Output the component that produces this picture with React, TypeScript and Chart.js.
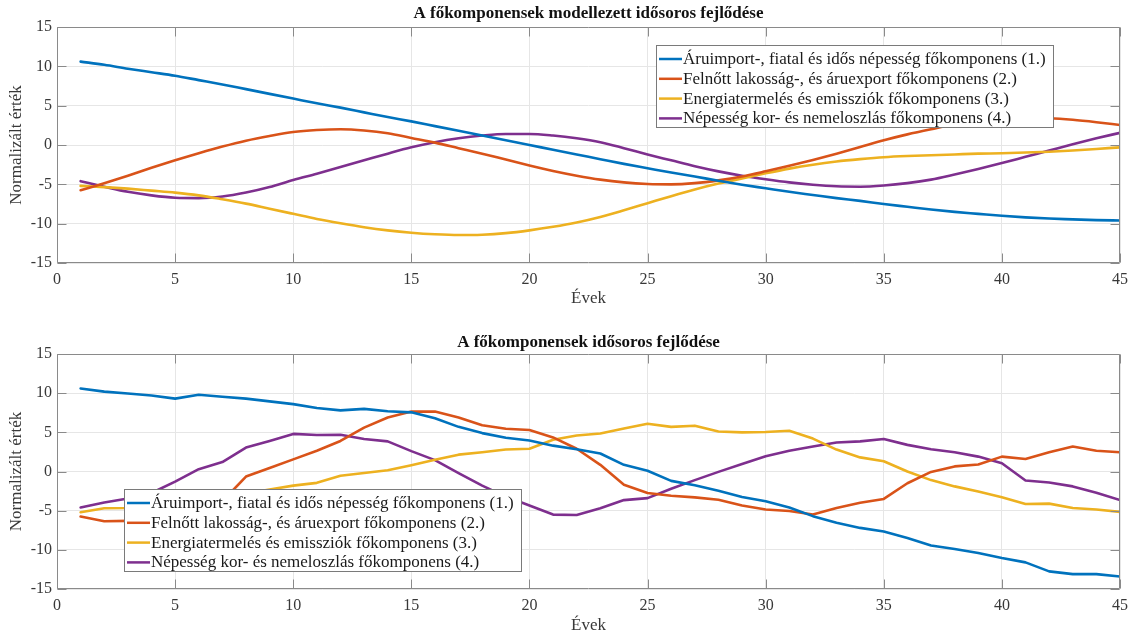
import React, { useEffect, useRef } from "react";
import { Chart, registerables } from "chart.js";

Chart.register(...registerables);

// ---------------- data ----------------
const years = [
  1, 2, 3, 4, 5, 6, 7, 8, 9, 10, 11, 12, 13, 14, 15, 16, 17, 18, 19, 20, 21, 22, 23,
  24, 25, 26, 27, 28, 29, 30, 31, 32, 33, 34, 35, 36, 37, 38, 39, 40, 41, 42, 43, 44, 45,
];

const seriesNames = [
  "Áruimport-, fiatal és idős népesség főkomponens (1.)",
  "Felnőtt lakosság-, és áruexport főkomponens (2.)",
  "Energiatermelés és emissziók főkomponens (3.)",
  "Népesség kor- és nemeloszlás főkomponens (4.)",
];

const seriesColors = ["#0072BD", "#D95319", "#EDB120", "#7E2F8E"];

// upper panel: modelled (smooth) time series
const modelComp1 = [
  10.6, 10.2, 9.7, 9.25, 8.8, 8.25, 7.7, 7.1, 6.5, 5.9,
  5.3, 4.75, 4.15, 3.55, 3.0, 2.4, 1.8, 1.2, 0.6, 0.0,
  -0.6, -1.2, -1.8, -2.4, -2.95, -3.5, -4.0, -4.55, -5.05, -5.5,
  -5.95, -6.35, -6.75, -7.1, -7.5, -7.85, -8.2, -8.5, -8.75, -9.0,
  -9.2, -9.35, -9.45, -9.55, -9.6,
];
const modelComp2 = [
  -5.75, -4.85, -3.9, -2.9, -1.95, -1.05, -0.2, 0.55, 1.15, 1.65,
  1.9, 2.0, 1.85, 1.5, 0.9, 0.3, -0.4, -1.1, -1.85, -2.6,
  -3.3, -3.9, -4.4, -4.75, -4.95, -5.0, -4.85, -4.5, -4.0, -3.35,
  -2.65, -1.9, -1.1, -0.25, 0.6, 1.35, 2.0, 2.6, 3.05, 3.35,
  3.45, 3.4, 3.2, 2.9, 2.55,
];
const modelComp3 = [
  -5.2, -5.35, -5.55, -5.8, -6.05, -6.4, -6.9, -7.45, -8.1, -8.75,
  -9.4, -9.95, -10.45, -10.85, -11.15, -11.35, -11.45, -11.4, -11.2, -10.85,
  -10.4, -9.85, -9.15, -8.3, -7.4, -6.5, -5.65, -4.9, -4.25, -3.6,
  -3.0, -2.5, -2.1, -1.8, -1.55, -1.4, -1.3, -1.2, -1.1, -1.05,
  -0.95, -0.85, -0.7, -0.5, -0.3,
];
const modelComp4 = [
  -4.6, -5.3, -5.95, -6.4, -6.7, -6.75, -6.55, -6.05, -5.35, -4.45,
  -3.65, -2.8, -1.95, -1.1, -0.3, 0.35, 0.85, 1.2, 1.4, 1.4,
  1.2, 0.85, 0.35, -0.4, -1.2, -1.95, -2.7, -3.35, -3.9, -4.35,
  -4.75, -5.05, -5.25, -5.3, -5.15, -4.85, -4.4, -3.75, -3.05, -2.3,
  -1.5, -0.7, 0.1, 0.85, 1.55,
];

// lower panel: observed time series
const obsComp1 = [
  10.6, 10.2, 9.95, 9.7, 9.3, 9.8, 9.55, 9.3, 8.95, 8.6,
  8.1, 7.8, 8.0, 7.7, 7.55, 6.8, 5.7, 4.9, 4.3, 3.95,
  3.3, 2.85, 2.3, 0.85, 0.1, -1.2, -1.75, -2.45, -3.25, -3.8,
  -4.6, -5.7, -6.55, -7.2, -7.65, -8.5, -9.45, -9.9, -10.4, -11.05,
  -11.6, -12.75, -13.1, -13.1, -13.4,
];
const obsComp2 = [
  -5.75, -6.35, -6.3, -6.25, -5.9, -5.0, -3.8, -0.65, 0.45, 1.55,
  2.65, 3.9, 5.6, 6.9, 7.65, 7.65, 6.9, 5.9, 5.45, 5.3,
  4.35, 2.9, 0.85, -1.7, -2.75, -3.1, -3.3, -3.6, -4.35, -4.85,
  -5.05, -5.5, -4.65, -4.0, -3.5, -1.5, -0.05, 0.65, 0.9, 1.9,
  1.6, 2.45, 3.2, 2.65, 2.45,
];
const obsComp3 = [
  -5.2, -4.7, -4.65, -4.4, -4.0, -3.6, -3.2, -2.8, -2.3, -1.8,
  -1.45, -0.55, -0.2, 0.15, 0.8, 1.5, 2.15, 2.45, 2.8, 2.9,
  4.05, 4.6, 4.85, 5.5, 6.1, 5.7, 5.85, 5.1, 5.0, 5.05,
  5.2, 4.2, 2.8, 1.8, 1.3, 0.0, -1.1, -1.9, -2.55, -3.3,
  -4.15, -4.1, -4.65, -4.85, -5.15,
];
const obsComp4 = [
  -4.6, -3.95, -3.45, -2.75, -1.3, 0.3, 1.2, 3.05, 3.9, 4.8,
  4.65, 4.7, 4.15, 3.85, 2.6, 1.45, -0.2, -1.8, -3.2, -4.35,
  -5.5, -5.55, -4.7, -3.65, -3.4, -2.2, -1.1, -0.05, 0.95, 1.95,
  2.65, 3.2, 3.7, 3.85, 4.15, 3.4, 2.85, 2.45, 1.9, 1.05,
  -1.15, -1.4, -1.9, -2.7, -3.65,
];

const xTickValues = [0, 5, 10, 15, 20, 25, 30, 35, 40, 45];
const yTickValues = [-15, -10, -5, 0, 5, 10, 15];

const topTitle = "A főkomponensek modellezett idősoros fejlődése";
const bottomTitle = "A főkomponensek idősoros fejlődése";
const xAxisLabel = "Évek";
const yAxisLabel = "Normalizált érték";

// ---------------- styling ----------------
const FONT = '"Liberation Serif", "Times New Roman", serif';
const AXIS_COLOR = "#8a8a8a";
const GRID_COLOR = "#e6e6e6";
const TEXT_COLOR = "#383838";
const WIDTH = 1138;

type PanelCfg = {
  title: string;
  series: number[][];
  smooth: boolean;
  height: number;
  padTop: number;
  axisHeight: number;
  titleY: number;
  xLabelY: number;
  legend: { left: number; top: number; width: number; height: number };
};

function makeDecor(cfg: PanelCfg) {
  return {
    id: "decor",
    afterDatasetsDraw(chart: any) {
      const { ctx, chartArea: a, scales } = chart;
      const L = Math.round(a.left) + 0.5;
      const R = Math.round(a.right) - 0.5;
      const T = Math.round(a.top) + 0.5;
      const B = Math.round(a.bottom) - 0.5;
      ctx.save();
      ctx.strokeStyle = AXIS_COLOR;
      ctx.lineWidth = 1;
      ctx.beginPath();
      ctx.rect(L, T, R - L, B - T);
      const tl = 9;
      xTickValues.forEach((v) => {
        const px = Math.round(scales.x.getPixelForValue(v)) + 0.5;
        ctx.moveTo(px, B);
        ctx.lineTo(px, B - tl);
        ctx.moveTo(px, T);
        ctx.lineTo(px, T + tl);
      });
      yTickValues.forEach((v) => {
        const py = Math.round(scales.y.getPixelForValue(v)) + 0.5;
        ctx.moveTo(L, py);
        ctx.lineTo(L + tl, py);
        ctx.moveTo(R, py);
        ctx.lineTo(R - tl, py);
      });
      ctx.stroke();
      ctx.restore();
    },
    afterDraw(chart: any) {
      const { ctx, chartArea: a } = chart;
      const cx = (a.left + a.right) / 2;
      const cy = (a.top + a.bottom) / 2;
      ctx.save();
      // title
      ctx.fillStyle = "#111";
      ctx.font = `bold 17px ${FONT}`;
      ctx.textAlign = "center";
      ctx.textBaseline = "middle";
      ctx.fillText(cfg.title, cx, cfg.titleY);
      // axis labels
      ctx.fillStyle = TEXT_COLOR;
      ctx.font = `17px ${FONT}`;
      ctx.fillText(xAxisLabel, cx, cfg.xLabelY);
      ctx.save();
      ctx.translate(17, cy);
      ctx.rotate(-Math.PI / 2);
      ctx.fillText(yAxisLabel, 0, 0);
      ctx.restore();
      // legend
      const lg = cfg.legend;
      ctx.fillStyle = "#ffffff";
      ctx.fillRect(lg.left, lg.top, lg.width, lg.height);
      ctx.strokeStyle = "#7a7a7a";
      ctx.lineWidth = 1;
      ctx.strokeRect(lg.left + 0.5, lg.top + 0.5, lg.width, lg.height);
      ctx.textAlign = "left";
      ctx.font = `17px ${FONT}`;
      seriesNames.forEach((name, i) => {
        const y = lg.top + 14 + i * 19.8;
        ctx.strokeStyle = seriesColors[i];
        ctx.lineWidth = 2.5;
        ctx.beginPath();
        ctx.moveTo(lg.left + 3, y);
        ctx.lineTo(lg.left + 26, y);
        ctx.stroke();
        ctx.fillStyle = "#1a1a1a";
        ctx.fillText(name, lg.left + 27, y + 0.5);
      });
      ctx.restore();
    },
  };
}

function Panel({ cfg }: { cfg: PanelCfg }) {
  const ref = useRef<HTMLCanvasElement>(null);
  useEffect(() => {
    const tickFont = { family: FONT, size: 16 };
    const chart = new Chart(ref.current as HTMLCanvasElement, {
      type: "line",
      data: {
        datasets: cfg.series.map((vals, i) => ({
          label: seriesNames[i],
          data: years.map((yr, j) => ({ x: yr, y: vals[j] })),
          borderColor: seriesColors[i],
          backgroundColor: seriesColors[i],
          borderWidth: 2.6,
          pointRadius: 0,
          fill: false,
          tension: cfg.smooth ? 0.4 : 0,
          cubicInterpolationMode: cfg.smooth ? "monotone" : "default",
          borderJoinStyle: "round",
          borderCapStyle: "round",
        })),
      } as any,
      options: {
        animation: false,
        responsive: false,
        events: [],
        layout: { padding: { top: cfg.padTop, right: 18, left: 0, bottom: 0 } },
        plugins: {
          legend: { display: false },
          title: { display: false },
          tooltip: { enabled: false },
        },
        scales: {
          x: {
            type: "linear",
            min: 0,
            max: 45,
            afterBuildTicks: (s: any) => {
              s.ticks = xTickValues.map((v) => ({ value: v }));
            },
            afterFit: (s: any) => {
              s.height = cfg.axisHeight;
            },
            grid: { color: GRID_COLOR, drawTicks: false },
            border: { display: false },
            ticks: { padding: 7, font: tickFont, color: TEXT_COLOR, maxRotation: 0, autoSkip: false },
          },
          y: {
            type: "linear",
            min: -15,
            max: 15,
            afterBuildTicks: (s: any) => {
              s.ticks = yTickValues.map((v) => ({ value: v }));
            },
            afterFit: (s: any) => {
              s.width = 57;
            },
            grid: { color: GRID_COLOR, drawTicks: false },
            border: { display: false },
            ticks: { padding: 5, font: tickFont, color: TEXT_COLOR, autoSkip: false },
          },
        },
      } as any,
      plugins: [makeDecor(cfg)],
    });
    return () => chart.destroy();
  }, []);
  return (
    <canvas
      ref={ref}
      width={WIDTH}
      height={cfg.height}
      style={{ display: "block", width: WIDTH, height: cfg.height }}
    />
  );
}

const topCfg: PanelCfg = {
  title: topTitle,
  series: [modelComp1, modelComp2, modelComp3, modelComp4],
  smooth: true,
  height: 320,
  padTop: 27,
  axisHeight: 57,
  titleY: 14,
  xLabelY: 299,
  legend: { left: 656, top: 45, width: 397, height: 82 },
};

const bottomCfg: PanelCfg = {
  title: bottomTitle,
  series: [obsComp1, obsComp2, obsComp3, obsComp4],
  smooth: false,
  height: 317,
  padTop: 34,
  axisHeight: 48,
  titleY: 23,
  xLabelY: 306,
  legend: { left: 124, top: 169, width: 397, height: 82 },
};

export default function App() {
  return (
    <div
      style={{
        position: "absolute",
        left: 0,
        top: 0,
        width: WIDTH,
        height: 637,
        background: "#ffffff",
        overflow: "hidden",
      }}
    >
      <Panel cfg={topCfg} />
      <Panel cfg={bottomCfg} />
    </div>
  );
}
